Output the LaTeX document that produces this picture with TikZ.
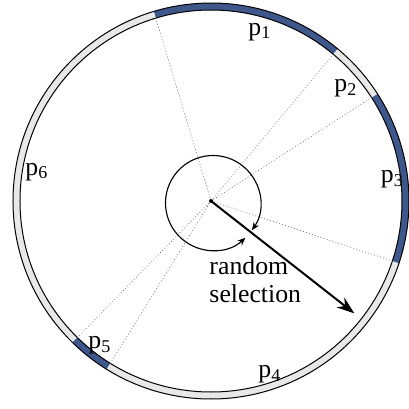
\documentclass[tikz,border=0pt]{standalone}
\usepackage{fontspec}
\setmainfont{Liberation Serif}
\usetikzlibrary{arrows.meta}
\definecolor{slotblue}{RGB}{62,88,140}
\definecolor{slotgray}{RGB}{232,232,232}
\newcommand{\pslot}[1]{p\textsubscript{#1}}

\begin{document}
\begin{tikzpicture}[x=0.4pt, y=0.4pt, line cap=round,
  every node/.style={font=\fontsize{10.3}{12.4}\selectfont, inner sep=0pt},
  ray/.style={gray!80!black, densely dotted, line width=0.25pt},
  rim/.style={line width=0.4pt}]
\useasboundingbox (-211,-208) rectangle (198,201);

% the wheel: ring slots as start/end angle/colour
\foreach \a/\b/\c in {50.2/106.8/slotblue, 106.8/225.6/slotgray, 225.6/238.2/slotblue,
                      238.2/341.7/slotgray, -18.3/32.8/slotblue, 32.8/50.2/slotgray} {
  \fill[\c] (\a:191) arc[start angle=\a, end angle=\b, radius=191]
    -- (\b:198) arc[start angle=\b, end angle=\a, radius=198] -- cycle;
}
\draw[rim] (0,0) circle[radius=198];
\draw[rim] (0,0) circle[radius=191];

% spokes to the slot borders
\coordinate (hub) at (0,0);
\foreach \a in {106.8, 50.2, 32.8, -18.3, 238.2, 225.6}
  \draw[ray] (hub) -- (\a:191);

% slot labels
\node[anchor=base] (p1) at (49,166) {\pslot{1}};
\node[anchor=base] (p2) at (135,109.3) {\pslot{2}};
\node[anchor=base] (p3) at (181.5,18.3) {\pslot{3}};
\node[anchor=base] (p4) at (59,-176.7) {\pslot{4}};
\node[anchor=base] (p5) at (-111,-147.3) {\pslot{5}};
\node[anchor=base] (p6) at (-174,26) {\pslot{6}};

% the spin
\draw[line width=0.45pt, {Stealth[length=3.2pt,width=2.6pt]}-{Stealth[length=3.2pt,width=2.6pt]}]
  (2,-2) ++(-35:47.5) arc[start angle=-35, end angle=313, radius=47.5];
\coordinate (tip) at (143.3,-112.3);
\draw[line width=0.8pt, -{Stealth[length=7pt,width=5pt]}] (hub) -- (tip);
\fill (hub) circle[radius=2];

\node[anchor=base west] (rnd) at (-2,-73.3) {random};
\node[anchor=base west] (sel) at (-2,-101.7) {selection};

\end{tikzpicture}
\end{document}
